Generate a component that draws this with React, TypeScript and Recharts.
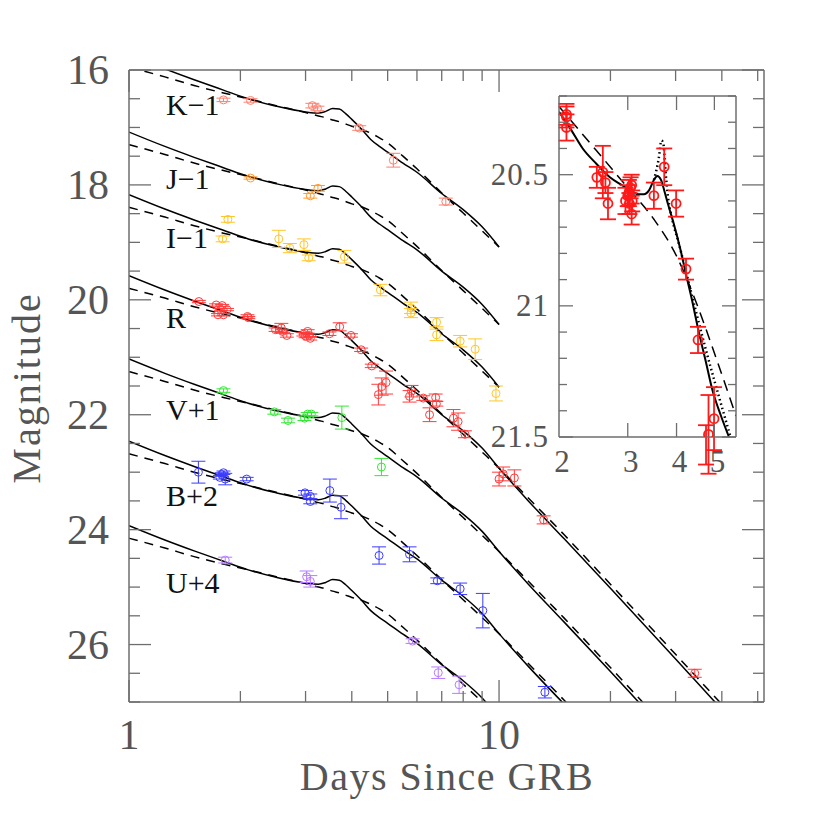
import React from "react";
import { ComposedChart, Line, Scatter, XAxis, YAxis, ErrorBar } from "recharts";

type Obs = [number, number, number]; // day, magnitude, error

// observed points per band (offsets already applied as in the figure)
const K_OBS: Obs[] = [
  [1.8, 16.52, 0.03], [2.13, 16.53, 0.03], [3.13, 16.62, 0.04], [3.23, 16.67, 0.04],
  [4.19, 17.01, 0.04], [5.18, 17.57, 0.12], [7.18, 18.29, 0.06],
];
const J_OBS: Obs[] = [[2.13, 17.88, 0.02], [3.09, 18.19, 0.04], [3.24, 18.06, 0.05]];
const I_OBS: Obs[] = [
  [1.85, 18.6, 0.05], [1.79, 18.94, 0.05], [2.54, 18.94, 0.15], [2.72, 19.1, 0.08],
  [2.97, 19.04, 0.1], [3.06, 19.27, 0.05], [3.82, 19.25, 0.11], [4.78, 19.83, 0.1],
  [5.78, 20.14, 0.1], [5.78, 20.23, 0.08], [6.78, 20.39, 0.08], [6.78, 20.61, 0.1],
  [7.85, 20.72, 0.1], [8.62, 20.86, 0.18], [9.81, 21.63, 0.13],
];
const R_OBS: Obs[] = [
  [1.545, 20.03, 0.02], [1.72, 20.09, 0.02], [1.74, 20.26, 0.02], [1.785, 20.1, 0.02],
  [1.8, 20.26, 0.02], [1.84, 20.17, 0.02], [1.77, 20.17, 0.02], [2.09, 20.29, 0.03],
  [2.1, 20.31, 0.02], [2.49, 20.52, 0.03], [2.58, 20.49, 0.08], [2.6, 20.55, 0.03],
  [2.67, 20.62, 0.03], [2.96, 20.6, 0.03], [3.04, 20.55, 0.03], [3.07, 20.62, 0.03],
  [3.0, 20.63, 0.03], [3.09, 20.67, 0.03], [3.48, 20.59, 0.03], [3.71, 20.47, 0.07],
  [3.98, 20.62, 0.03], [4.24, 20.87, 0.03], [4.53, 21.15, 0.03], [4.72, 21.65, 0.18],
  [4.82, 21.51, 0.15], [4.95, 21.44, 0.2], [5.73, 21.68, 0.1], [5.8, 21.59, 0.1],
  [6.24, 21.71, 0.04], [6.49, 22.0, 0.12], [6.74, 21.7, 0.06], [6.77, 21.81, 0.04],
  [7.53, 22.06, 0.15], [7.75, 22.12, 0.15], [8.09, 22.34, 0.06], [10.0, 23.12, 0.12],
  [10.26, 23.03, 0.12], [11.0, 23.1, 0.14], [13.2, 23.83, 0.07], [33.8, 26.5, 0.07],
];
const V_OBS: Obs[] = [
  [1.8, 21.58, 0.03], [2.47, 21.95, 0.04], [2.69, 22.1, 0.04], [2.98, 22.06, 0.04],
  [3.04, 21.99, 0.03], [3.11, 21.99, 0.03], [3.76, 22.05, 0.2], [4.81, 22.91, 0.15],
];
const B_OBS: Obs[] = [
  [1.54, 23.0, 0.19], [1.76, 23.09, 0.03], [1.78, 23.04, 0.03], [1.8, 23.01, 0.03],
  [1.82, 23.12, 0.1], [2.08, 23.12, 0.03], [2.99, 23.36, 0.04], [3.09, 23.42, 0.04],
  [3.09, 23.51, 0.04], [3.49, 23.32, 0.2], [3.74, 23.61, 0.2], [4.74, 24.45, 0.15],
  [5.73, 24.43, 0.13], [6.81, 24.89, 0.05], [7.85, 25.03, 0.1], [9.04, 25.41, 0.3],
  [13.3, 26.83, 0.1],
];
const U_OBS: Obs[] = [
  [1.82, 24.53, 0.05], [3.02, 24.82, 0.1], [3.09, 24.9, 0.1], [5.84, 25.94, 0.04],
  [6.85, 26.49, 0.1], [7.8, 26.7, 0.15],
];

// model light curves (K-1 level), shifted per band
const MODEL_DAYS = [1.0, 1.25, 1.5, 1.8, 2.1, 2.5, 3.0, 3.25, 3.4, 3.55, 3.7, 3.85, 4.0, 4.25, 4.5, 4.75, 5.0, 5.5, 6.0, 7.0, 8.0, 9.0, 10.0, 12.0, 15.0, 20.0, 30.0, 40.0, 52.0];
const SOLID_BASE = [15.73, 15.98, 16.17, 16.35, 16.5, 16.63, 16.73, 16.75, 16.72, 16.67, 16.68, 16.76, 16.86, 17.03, 17.21, 17.33, 17.43, 17.62, 17.78, 18.15, 18.43, 18.73, 19.08, 19.65, 20.31, 21.17, 22.4, 23.28, 24.06];
const DASHED_BASE = [15.95, 16.12, 16.27, 16.4, 16.5, 16.62, 16.74, 16.8, 16.83, 16.87, 16.9, 16.94, 16.98, 17.03, 17.1, 17.18, 17.27, 17.5, 17.72, 18.14, 18.49, 18.8, 19.08, 19.6, 20.24, 21.1, 22.32, 23.19, 23.97];

const BAND_NAMES = ["K−1", "J−1", "I−1", "R", "V+1", "B+2", "U+4"];
const BAND_OBS = [K_OBS, J_OBS, I_OBS, R_OBS, V_OBS, B_OBS, U_OBS];
const BAND_OFFSETS = [0, 1.35, 2.44, 3.85, 5.3, 6.73, 8.2];
const BAND_LAST_DAY = [10, 10, 10, 52, 52, 52, 52];
const BAND_COLORS = ["#ff7f6e", "#ff9a2e", "#ffc629", "#ff3b3b", "#33e833", "#3b3bff", "#b77bff"];

// inset: R band around the bump
const INSET_OBS: Obs[] = [
  [2.09, 20.27, 0.04], [2.09, 20.28, 0.04], [2.09, 20.32, 0.05], [2.5, 20.51, 0.04],
  [2.59, 20.49, 0.1], [2.63, 20.53, 0.04], [2.67, 20.61, 0.06], [2.96, 20.6, 0.05],
  [3.0, 20.58, 0.04], [3.02, 20.57, 0.05], [3.03, 20.61, 0.04], [3.05, 20.55, 0.04],
  [3.07, 20.54, 0.04], [3.08, 20.6, 0.04], [3.07, 20.65, 0.04], [3.5, 20.58, 0.05],
  [3.72, 20.47, 0.07], [3.99, 20.61, 0.05], [4.23, 20.86, 0.04], [4.54, 21.13, 0.05],
  [4.99, 21.43, 0.12], [4.83, 21.49, 0.15], [4.76, 21.53, 0.075],
];
const INSET_SOLID_DAYS = [2.0, 2.15, 2.3, 2.5, 2.7, 2.9, 3.05, 3.2, 3.3, 3.4, 3.5, 3.57, 3.65, 3.72, 3.8, 3.94, 4.1, 4.23, 4.4, 4.53, 4.75, 4.94, 5.2, 5.45];
const INSET_SOLID_MAGS = [20.26, 20.33, 20.4, 20.46, 20.51, 20.54, 20.56, 20.575, 20.575, 20.56, 20.52, 20.505, 20.52, 20.56, 20.61, 20.69, 20.79, 20.88, 20.99, 21.08, 21.21, 21.32, 21.42, 21.5];
const INSET_DASHED_DAYS = [2.0, 2.5, 3.0, 3.5, 4.0, 4.5, 5.0, 5.68];
const INSET_DASHED_MAGS = [20.24, 20.41, 20.55, 20.67, 20.81, 20.99, 21.18, 21.42];
const INSET_DOTTED_DAYS = [3.5, 3.6, 3.66, 3.7, 3.74, 3.8, 3.9, 4.05, 4.23, 4.5, 4.8, 5.1, 5.5];
const INSET_DOTTED_MAGS = [20.52, 20.44, 20.37, 20.38, 20.47, 20.58, 20.67, 20.76, 20.87, 21.03, 21.19, 21.33, 21.5];

const MAIN_X_TICKS = [1, 2, 3, 4, 5, 6, 7, 8, 9, 10, 20, 30, 40, 50];
const MAIN_Y_TICKS = [16, 16.5, 17, 17.5, 18, 18.5, 19, 19.5, 20, 20.5, 21, 21.5, 22, 22.5, 23, 23.5, 24, 24.5, 25, 25.5, 26, 26.5, 27];
const INSET_X_TICKS = [2, 3, 4, 5];
const INSET_Y_TICKS = [20.2, 20.3, 20.4, 20.5, 20.6, 20.7, 20.8, 20.9, 21, 21.1, 21.2, 21.3, 21.4, 21.5];
const INSET_Y_LABELS = [20.5, 21, 21.5];

const AXIS = "#6e6e6e";
const TEXT = "#555";
const FONT = "'Liberation Serif', 'DejaVu Serif', serif";

const toPoints = (obs: Obs[]) => obs.map(([day, mag, err]) => ({ day, mag, err }));
const zipCurve = (days: number[], mags: number[]) => days.map((day, i) => ({ day, mag: mags[i] }));
const bandCurve = (base: number[], b: number) =>
  MODEL_DAYS.map((day, i) => ({ day, mag: base[i] + BAND_OFFSETS[b] })).filter((p) => p.day <= BAND_LAST_DAY[b]);

const ring = (color: string, r: number, sw: number) => (p: any) =>
  <circle cx={p.cx} cy={p.cy} r={r} fill="none" stroke={color} strokeWidth={sw} />;

// inward tick marks on all four sides
const isMainXMajor = (v: number) => v === 1 || v === 10;
const isMainYMajor = (v: number) => Math.abs(v % 2) < 1e-6;

function MainBottomTick({ x, y, payload }: any) {
  const major = isMainXMajor(payload.value);
  return (
    <g>
      <line x1={x} x2={x} y1={y} y2={y - (major ? 22 : 11)} stroke={AXIS} strokeWidth={1.3} />
      {major && (
        <text x={x} y={y + 47} textAnchor="middle" fontFamily={FONT} fontSize={42} fill={TEXT}>
          {payload.value}
        </text>
      )}
    </g>
  );
}
function MainTopTick({ x, y, payload }: any) {
  const major = isMainXMajor(payload.value);
  return <line x1={x} x2={x} y1={y} y2={y + (major ? 22 : 11)} stroke={AXIS} strokeWidth={1.3} />;
}
function MainLeftTick({ x, y, payload }: any) {
  const major = isMainYMajor(payload.value);
  return (
    <g>
      <line x1={x} x2={x + (major ? 22 : 11)} y1={y} y2={y} stroke={AXIS} strokeWidth={1.3} />
      {major && payload.value < 27 && (
        <text x={x - 20} y={y + 14} textAnchor="end" fontFamily={FONT} fontSize={42} fill={TEXT}>
          {payload.value}
        </text>
      )}
    </g>
  );
}
function MainRightTick({ x, y, payload }: any) {
  const major = isMainYMajor(payload.value);
  return <line x1={x} x2={x - (major ? 22 : 11)} y1={y} y2={y} stroke={AXIS} strokeWidth={1.3} />;
}

function InsetBottomTick({ x, y, payload }: any) {
  return (
    <g>
      {payload.value !== 2 && <line x1={x} x2={x} y1={y} y2={y - 14} stroke={AXIS} strokeWidth={1.3} />}
      <text x={x + 3} y={y + 35} textAnchor="middle" fontFamily={FONT} fontSize={31} fill={TEXT}>
        {payload.value}
      </text>
    </g>
  );
}
function InsetTopTick({ x, y, payload }: any) {
  if (payload.value === 2) return <g />;
  return <line x1={x} x2={x} y1={y} y2={y + 14} stroke={AXIS} strokeWidth={1.3} />;
}
const isInsetLabel = (v: number) => INSET_Y_LABELS.some((l) => Math.abs(l - v) < 1e-6);
function InsetLeftTick({ x, y, payload }: any) {
  const major = isInsetLabel(payload.value);
  return (
    <g>
      <line x1={x} x2={x + (major ? 14 : 8)} y1={y} y2={y} stroke={AXIS} strokeWidth={1.3} />
      {major && (
        <text x={x - 10} y={y + 10} textAnchor="end" fontFamily={FONT} fontSize={31} letterSpacing={1} fill={TEXT}>
          {payload.value}
        </text>
      )}
    </g>
  );
}
function InsetRightTick({ x, y, payload }: any) {
  const major = isInsetLabel(payload.value);
  return <line x1={x} x2={x - (major ? 14 : 8)} y1={y} y2={y} stroke={AXIS} strokeWidth={1.3} />;
}

const BAND_LABEL_Y = [115, 189, 248, 328, 420, 506, 593];

const axisLine = { stroke: AXIS, strokeWidth: 1.5 };

export default function App() {
  return (
    <div style={{ position: "absolute", left: 0, top: 0, width: 830, height: 830, background: "#fff" }}>
      <div style={{ position: "absolute", left: 0, top: 0 }}>
        <ComposedChart width={830} height={830} margin={{ top: 69, right: 65, bottom: 127, left: 128 }}>
          <XAxis dataKey="day" type="number" scale="log" domain={[1, 52]} allowDataOverflow ticks={MAIN_X_TICKS}
            interval={0} height={1} tickSize={0} tickMargin={0} tickLine={false}
            axisLine={axisLine} tick={<MainBottomTick />} />
          <XAxis xAxisId="top" orientation="top" dataKey="day" type="number" scale="log" domain={[1, 52]}
            allowDataOverflow ticks={MAIN_X_TICKS} interval={0} height={1} tickSize={0} tickMargin={0}
            tickLine={false} axisLine={axisLine} tick={<MainTopTick />} />
          <YAxis dataKey="mag" type="number" reversed domain={[16, 27]} allowDataOverflow ticks={MAIN_Y_TICKS}
            interval={0} width={1} tickSize={0} tickMargin={0} tickLine={false}
            axisLine={axisLine} tick={<MainLeftTick />} />
          <YAxis yAxisId="right" orientation="right" dataKey="mag" type="number" reversed domain={[16, 27]}
            allowDataOverflow ticks={MAIN_Y_TICKS} interval={0} width={1} tickSize={0} tickMargin={0}
            tickLine={false} axisLine={axisLine} tick={<MainRightTick />} />
          {BAND_NAMES.map((name, b) => (
            <Line key={"d" + name} data={bandCurve(DASHED_BASE, b)} dataKey="mag" type="monotone" stroke="#000"
              strokeWidth={1.5} strokeDasharray="9 7" dot={false} isAnimationActive={false} />
          ))}
          {BAND_NAMES.map((name, b) => (
            <Line key={"s" + name} data={bandCurve(SOLID_BASE, b)} dataKey="mag" type="monotone" stroke="#000"
              strokeWidth={1.5} dot={false} isAnimationActive={false} />
          ))}
          {BAND_NAMES.map((name, b) => (
            <Scatter key={"o" + name} data={toPoints(BAND_OBS[b])} dataKey="mag"
              shape={ring(BAND_COLORS[b], 4, 1)} isAnimationActive={false}>
              <ErrorBar dataKey="err" direction="y" width={7} stroke={BAND_COLORS[b]} strokeWidth={1} />
            </Scatter>
          ))}
        </ComposedChart>
      </div>

      <div style={{ position: "absolute", left: 559, top: 96, width: 177, height: 341, background: "#fff" }} />

      <div style={{ position: "absolute", left: 470, top: 80 }}>
        <ComposedChart width={300} height={420} margin={{ top: 15, right: 33, bottom: 62, left: 88 }}>
          <XAxis dataKey="day" type="number" scale="log" domain={[2, 5.68]} allowDataOverflow ticks={INSET_X_TICKS}
            interval={0} height={1} tickSize={0} tickMargin={0} tickLine={false}
            axisLine={axisLine} tick={<InsetBottomTick />} />
          <XAxis xAxisId="top" orientation="top" dataKey="day" type="number" scale="log" domain={[2, 5.68]}
            allowDataOverflow ticks={INSET_X_TICKS} interval={0} height={1} tickSize={0} tickMargin={0}
            tickLine={false} axisLine={axisLine} tick={<InsetTopTick />} />
          <YAxis dataKey="mag" type="number" reversed domain={[20.2, 21.5]} allowDataOverflow ticks={INSET_Y_TICKS}
            interval={0} width={1} tickSize={0} tickMargin={0} tickLine={false}
            axisLine={axisLine} tick={<InsetLeftTick />} />
          <YAxis yAxisId="right" orientation="right" dataKey="mag" type="number" reversed domain={[20.2, 21.5]}
            allowDataOverflow ticks={INSET_Y_TICKS} interval={0} width={1} tickSize={0} tickMargin={0}
            tickLine={false} axisLine={axisLine} tick={<InsetRightTick />} />
          <Line data={zipCurve(INSET_DASHED_DAYS, INSET_DASHED_MAGS)} dataKey="mag" type="monotone" stroke="#000"
            strokeWidth={1.5} strokeDasharray="11 7" dot={false} isAnimationActive={false} />
          <Line data={zipCurve(INSET_DOTTED_DAYS, INSET_DOTTED_MAGS)} dataKey="mag" type="monotone" stroke="#000"
            strokeWidth={2.5} strokeDasharray="1.5 3" dot={false} isAnimationActive={false} />
          <Line data={zipCurve(INSET_SOLID_DAYS, INSET_SOLID_MAGS)} dataKey="mag" type="monotone" stroke="#000"
            strokeWidth={2} dot={false} isAnimationActive={false} />
          <Scatter data={toPoints(INSET_OBS)} dataKey="mag" shape={ring("#ff1a1a", 4.5, 1.8)} isAnimationActive={false}>
            <ErrorBar dataKey="err" direction="y" width={8} stroke="#ff1a1a" strokeWidth={1.8} />
          </Scatter>
        </ComposedChart>
      </div>

      <svg width={830} height={830} style={{ position: "absolute", left: 0, top: 0, pointerEvents: "none" }}>
        {BAND_NAMES.map((name, b) => (
          <text key={name} x={166} y={BAND_LABEL_Y[b]} fontFamily={FONT} fontSize={30} fill="#111">
            {name}
          </text>
        ))}
        <text transform="translate(40,388) rotate(-90)" textAnchor="middle" fontFamily={FONT} fontSize={40}
          letterSpacing={2} fill={TEXT}>
          Magnitude
        </text>
        <text x={447} y={790} textAnchor="middle" fontFamily={FONT} fontSize={40} letterSpacing={1.5} fill={TEXT}>
          Days Since GRB
        </text>
      </svg>
    </div>
  );
}
